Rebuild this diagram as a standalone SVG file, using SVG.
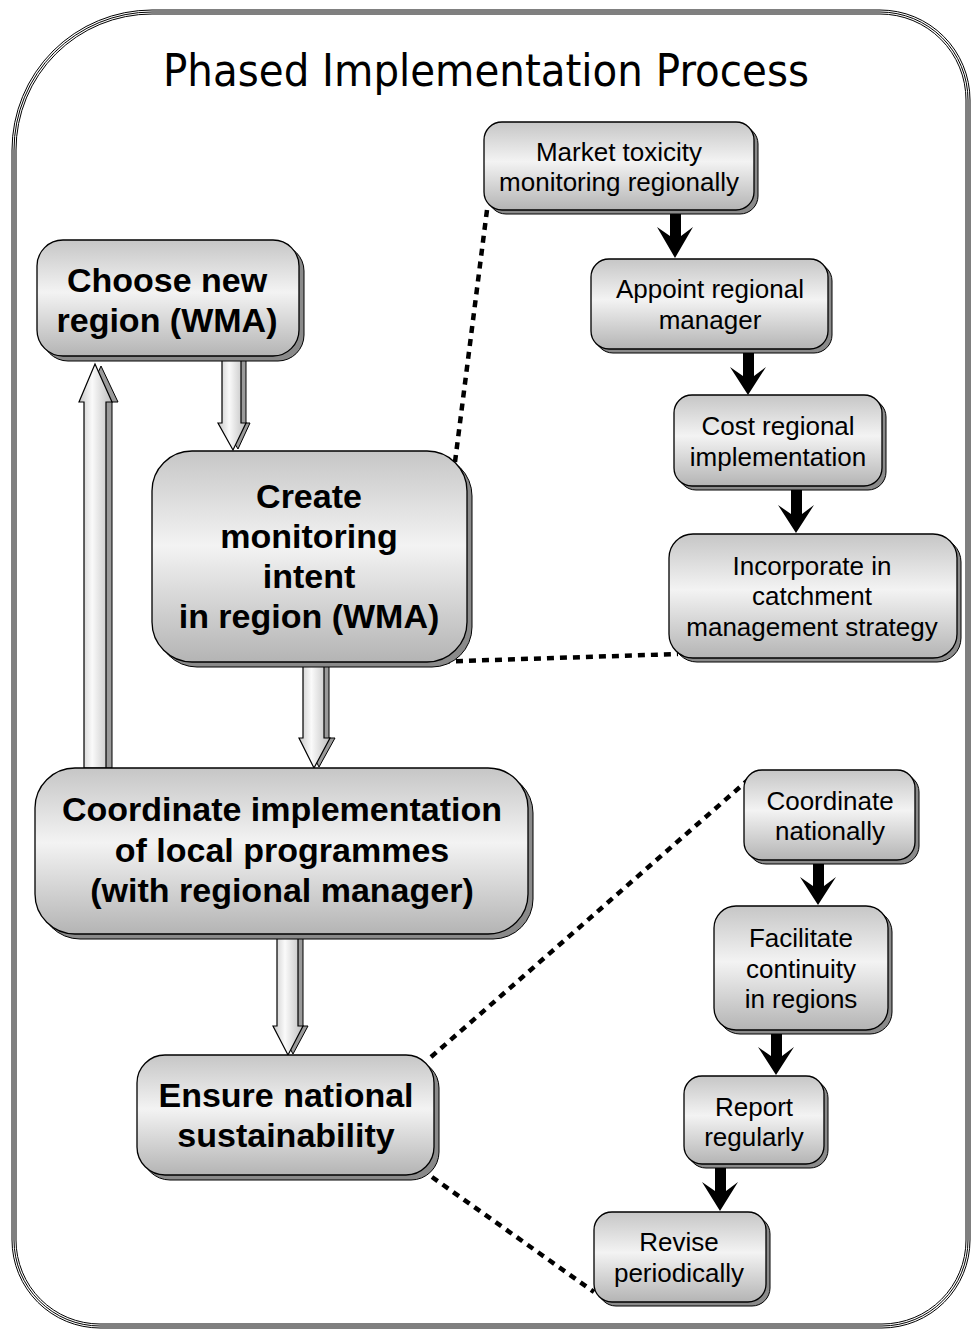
<svg xmlns="http://www.w3.org/2000/svg" width="973" height="1330" viewBox="0 0 973 1330">
<defs>
<linearGradient id="gNode" x1="0" y1="0" x2="0" y2="1">
<stop offset="0" stop-color="#c6c6c6"/>
<stop offset="0.45" stop-color="#f3f3f3"/>
<stop offset="1" stop-color="#b4b4b4"/>
</linearGradient>
<linearGradient id="gArrow" x1="0" y1="0" x2="1" y2="0">
<stop offset="0" stop-color="#c8c8c8"/>
<stop offset="0.4" stop-color="#fafafa"/>
<stop offset="1" stop-color="#bdbdbd"/>
</linearGradient>
</defs>
<style>
.face{fill:url(#gNode);stroke:#000;stroke-width:1.3}
.sh{fill:#8a8a8a;stroke:#000;stroke-width:1}
.big{font-family:"Liberation Sans",Arial,sans-serif;font-weight:bold;font-size:34px;fill:#000;text-anchor:middle}
.sm{font-family:"Liberation Sans",Arial,sans-serif;font-size:26px;fill:#000;text-anchor:middle}
.title{font-family:"DejaVu Sans","Liberation Sans",sans-serif;font-size:44px;fill:#000;text-anchor:middle}
.ha{fill:url(#gArrow);stroke:#000;stroke-width:1.2}
.has{fill:#9a9a9a;stroke:#000;stroke-width:1}
.ba{fill:#000;stroke:none}
.dot{fill:none;stroke:#000;stroke-width:4.5;stroke-dasharray:7 6}
.fr{fill:none;stroke:#000;stroke-width:1}
</style>
<rect width="973" height="1330" fill="#fff"/>
<g id="frame">
<path class="fr" d="M152,10 H880 A90,90 0 0 1 970,100 V1240 A88,88 0 0 1 882,1328 H100 A88,88 0 0 1 12,1240 V150 A140,140 0 0 1 152,10 Z"/>
<path class="fr" d="M152,12 H880 A88,88 0 0 1 968,100 V1240 A86,86 0 0 1 882,1326 H100 A86,86 0 0 1 14,1240 V150 A138,138 0 0 1 152,12 Z"/>
<path class="fr" d="M152,14 H880 A86,86 0 0 1 966,100 V1240 A84,84 0 0 1 882,1324 H100 A84,84 0 0 1 16,1240 V150 A136,136 0 0 1 152,14 Z"/>
</g>
<text class="title" x="486" y="86" textLength="646" lengthAdjust="spacingAndGlyphs">Phased Implementation Process</text>

<g id="connectors">
<g id="arrow-up">
<path class="has" d="M90,768 V402 H85 L101,366 L118,402 H112 V768 Z"/>
<path class="ha" d="M84,768 V402 H79 L95,364 L112,402 H106 V768 Z"/>
</g>
<g id="arrow-choose-create">
<path class="has" d="M227,357 V423 H222 L238,449 L250,423 H246 V357 Z"/>
<path class="ha" d="M222,357 V423 H218 L233,450 L246,423 H241 V357 Z"/>
</g>
<g id="arrow-create-coord">
<path class="has" d="M308,663 V738 H304 L319,767 L335,738 H329 V663 Z"/>
<path class="ha" d="M303,663 V738 H299 L314,768 L330,738 H324 V663 Z"/>
</g>
<g id="arrow-coord-ensure">
<path class="has" d="M282,935 V1026 H278 L293,1054 L308,1026 H303 V935 Z"/>
<path class="ha" d="M277,935 V1026 H273 L288,1055 L303,1026 H298 V935 Z"/>
</g>
<path class="ba" d="M670,210 H681 V236 L693,227 L675,258 L657,227 L670,236 Z"/>
<path class="ba" d="M743,351 H754 V376 L766,367 L748,395 L730,367 L743,376 Z"/>
<path class="ba" d="M791,488 H802 V514 L814,505 L796,533 L778,505 L791,514 Z"/>
<path class="ba" d="M813,861 H824 V886 L836,877 L818,905 L800,877 L813,886 Z"/>
<path class="ba" d="M771,1031 H782 V1056 L794,1047 L776,1075 L758,1047 L771,1056 Z"/>
<path class="ba" d="M715,1165 H726 V1191 L738,1182 L720,1211 L702,1182 L715,1191 Z"/>
<path class="dot" d="M455,462 L487,210"/>
<path class="dot" d="M430,662 L678,654"/>
<path class="dot" d="M431,1057 L748,780"/>
<path class="dot" d="M432,1177 L594,1292"/>
</g>

<g id="n-choose">
<rect class="sh" x="42" y="245" width="262" height="116" rx="26"/>
<rect class="face" x="37" y="240" width="262" height="116" rx="26"/>
<text class="big" x="167" y="292">Choose new</text>
<text class="big" x="167" y="332">region (WMA)</text>
</g>
<g id="n-create">
<rect class="sh" x="157" y="456" width="315" height="211" rx="40"/>
<rect class="face" x="152" y="451" width="315" height="211" rx="40"/>
<text class="big" x="309" y="508">Create</text>
<text class="big" x="309" y="548">monitoring</text>
<text class="big" x="309" y="588">intent</text>
<text class="big" x="309" y="628">in region (WMA)</text>
</g>
<g id="n-coordinate">
<rect class="sh" x="40" y="773" width="493" height="166" rx="40"/>
<rect class="face" x="35" y="768" width="493" height="166" rx="40"/>
<text class="big" x="282" y="821">Coordinate implementation</text>
<text class="big" x="282" y="862">of local programmes</text>
<text class="big" x="282" y="902">(with regional manager)</text>
</g>
<g id="n-ensure">
<rect class="sh" x="142" y="1060" width="297" height="120" rx="28"/>
<rect class="face" x="137" y="1055" width="297" height="120" rx="28"/>
<text class="big" x="286" y="1107">Ensure national</text>
<text class="big" x="286" y="1147">sustainability</text>
</g>

<g id="n-market">
<rect class="sh" x="488" y="126" width="270" height="88" rx="18"/>
<rect class="face" x="484" y="122" width="270" height="88" rx="18"/>
<text class="sm" x="619" y="161">Market toxicity</text>
<text class="sm" x="619" y="191">monitoring regionally</text>
</g>
<g id="n-appoint">
<rect class="sh" x="595" y="263" width="237" height="90" rx="18"/>
<rect class="face" x="591" y="259" width="237" height="90" rx="18"/>
<text class="sm" x="710" y="298">Appoint regional</text>
<text class="sm" x="710" y="329">manager</text>
</g>
<g id="n-cost">
<rect class="sh" x="678" y="399" width="208" height="91" rx="18"/>
<rect class="face" x="674" y="395" width="208" height="91" rx="18"/>
<text class="sm" x="778" y="435">Cost regional</text>
<text class="sm" x="778" y="466">implementation</text>
</g>
<g id="n-incorporate">
<rect class="sh" x="673" y="538" width="288" height="124" rx="24"/>
<rect class="face" x="669" y="534" width="288" height="124" rx="24"/>
<text class="sm" x="812" y="575">Incorporate in</text>
<text class="sm" x="812" y="605">catchment</text>
<text class="sm" x="812" y="636">management strategy</text>
</g>
<g id="n-coordnat">
<rect class="sh" x="748" y="774" width="171" height="90" rx="18"/>
<rect class="face" x="744" y="770" width="171" height="90" rx="18"/>
<text class="sm" x="830" y="810">Coordinate</text>
<text class="sm" x="830" y="840">nationally</text>
</g>
<g id="n-facilitate">
<rect class="sh" x="718" y="910" width="174" height="124" rx="22"/>
<rect class="face" x="714" y="906" width="174" height="124" rx="22"/>
<text class="sm" x="801" y="947">Facilitate</text>
<text class="sm" x="801" y="978">continuity</text>
<text class="sm" x="801" y="1008">in regions</text>
</g>
<g id="n-report">
<rect class="sh" x="688" y="1080" width="140" height="88" rx="18"/>
<rect class="face" x="684" y="1076" width="140" height="88" rx="18"/>
<text class="sm" x="754" y="1116">Report</text>
<text class="sm" x="754" y="1146">regularly</text>
</g>
<g id="n-revise">
<rect class="sh" x="598" y="1216" width="172" height="90" rx="18"/>
<rect class="face" x="594" y="1212" width="172" height="90" rx="18"/>
<text class="sm" x="679" y="1251">Revise</text>
<text class="sm" x="679" y="1282">periodically</text>
</g>
</svg>
